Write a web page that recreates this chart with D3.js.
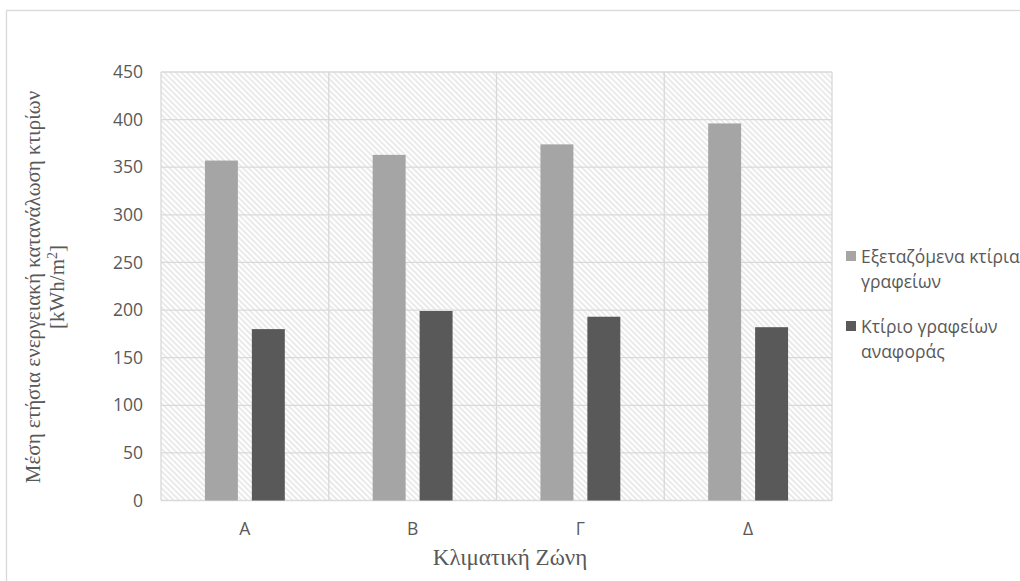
<!DOCTYPE html>
<html>
<head>
<meta charset="utf-8">
<script src="https://cdn.jsdelivr.net/npm/d3@7"></script>
<style>
  html, body { margin: 0; padding: 0; background: #fff; }
  svg { display: block; }
</style>
</head>
<body>
<svg id="chart" width="1020" height="581"></svg>
<script>
// Climate zones and mean annual energy use per zone (kWh/m²)
const zones = ["A", "B", "Γ", "Δ"];
const examined = [357, 363, 374, 396];
const reference = [180, 199, 193, 182];
const seriesNames = ["Εξεταζόμενα κτίρια γραφείων", "Κτίριο γραφείων αναφοράς"];
const legendLines = [["Εξεταζόμενα κτίρια", "γραφείων"], ["Κτίριο γραφείων", "αναφοράς"]];
const yTicks = [0, 50, 100, 150, 200, 250, 300, 350, 400, 450];
const colors = ["#a5a5a5", "#595959"];

const svg = d3.select("#chart");
const plot = { left: 161, right: 832, top: 72, bottom: 500.5 };

// outer chart frame
svg.append("rect")
  .attr("x", 6.5).attr("y", 10.5)
  .attr("width", 1040).attr("height", 600)
  .attr("fill", "#fff").attr("stroke", "#d9d9d9").attr("stroke-width", 1.3);

// diagonal hatch for plot background
const defs = svg.append("defs");
const pat = defs.append("pattern")
  .attr("id", "hatch")
  .attr("patternUnits", "userSpaceOnUse")
  .attr("width", 4).attr("height", 4)
  .attr("patternTransform", "rotate(-45)");
pat.append("rect").attr("width", 4).attr("height", 4).attr("fill", "#fff");
pat.append("line")
  .attr("x1", 1).attr("y1", 0).attr("x2", 1).attr("y2", 4)
  .attr("stroke", "#dcdcdc").attr("stroke-width", 1.2);

const x = d3.scaleBand().domain(zones).range([plot.left, plot.right]).padding(0);
const xs = d3.scaleBand().domain(d3.range(2)).range([0, x.bandwidth()])
  .paddingInner(0.298).paddingOuter(0.936);
const y = d3.scaleLinear().domain([0, 450]).range([plot.bottom, plot.top]);

svg.append("rect")
  .attr("x", plot.left).attr("y", plot.top)
  .attr("width", plot.right - plot.left).attr("height", plot.bottom - plot.top)
  .attr("fill", "url(#hatch)");

// horizontal gridlines
svg.append("g").selectAll("line").data(yTicks).join("line")
  .attr("x1", plot.left).attr("x2", plot.right)
  .attr("y1", d => y(d)).attr("y2", d => y(d))
  .attr("stroke", "#d9d9d9").attr("stroke-width", 1.3);

// vertical category separators
const seps = zones.map(z => x(z)).concat([plot.right]);
svg.append("g").selectAll("line").data(seps).join("line")
  .attr("x1", d => d).attr("x2", d => d)
  .attr("y1", plot.top).attr("y2", plot.bottom)
  .attr("stroke", "#d9d9d9").attr("stroke-width", 1.3);

// bars
const series = [examined, reference];
series.forEach((vals, si) => {
  svg.append("g").selectAll("rect").data(vals).join("rect")
    .attr("x", (d, i) => x(zones[i]) + xs(si))
    .attr("width", xs.bandwidth())
    .attr("y", d => y(d))
    .attr("height", d => y(0) - y(d))
    .attr("fill", colors[si]);
});

// y axis tick labels
const yAxis = d3.axisLeft(y).tickValues(yTicks).tickSize(0).tickPadding(18);
const yg = svg.append("g").attr("transform", `translate(${plot.left},0)`).call(yAxis);
yg.select(".domain").remove();
yg.selectAll("text")
  .attr("fill", "#595959")
  .style("font-family", "'Open Sans', sans-serif")
  .style("font-size", "17.5px");

// x axis category labels
const xAxis = d3.axisBottom(x).tickSize(0).tickPadding(22);
const xg = svg.append("g").attr("transform", `translate(0,${plot.bottom})`).call(xAxis);
xg.select(".domain").remove();
xg.selectAll("text")
  .attr("fill", "#595959")
  .style("font-family", "'Open Sans', sans-serif")
  .style("font-size", "17.5px");

// axis titles
svg.append("text")
  .attr("x", 510).attr("y", 565)
  .attr("text-anchor", "middle")
  .attr("fill", "#595959")
  .style("font-family", "'Liberation Serif', serif")
  .style("font-size", "23px")
  .text("Κλιματική Ζώνη");

const yTitle = svg.append("text")
  .attr("transform", "translate(0,287) rotate(-90)")
  .attr("text-anchor", "middle")
  .attr("fill", "#595959")
  .style("font-family", "'Liberation Serif', serif")
  .style("font-size", "21px");
yTitle.append("tspan").attr("x", 0).attr("y", 40)
  .text("Μέση ετήσια ενεργειακή κατανάλωση κτιρίων");
const l2 = yTitle.append("tspan").attr("x", 0).attr("y", 64);
l2.append("tspan").text("[kWh/m");
l2.append("tspan").attr("baseline-shift", "super").style("font-size", "14px").text("2");
l2.append("tspan").text("]");

// legend
const legendTop = [251, 321];
legendLines.forEach((lines, i) => {
  const g = svg.append("g");
  g.append("rect")
    .attr("x", 846).attr("y", legendTop[i])
    .attr("width", 10).attr("height", 10)
    .attr("fill", colors[i]);
  const t = g.append("text")
    .attr("fill", "#595959")
    .style("font-family", "'Open Sans', sans-serif")
    .style("font-size", "17.5px");
  t.append("title").text(seriesNames[i]);
  lines.forEach((ln, j) => {
    t.append("tspan").attr("x", 861).attr("y", legendTop[i] + 12 + j * 25).text(ln);
  });
});
</script>
</body>
</html>
